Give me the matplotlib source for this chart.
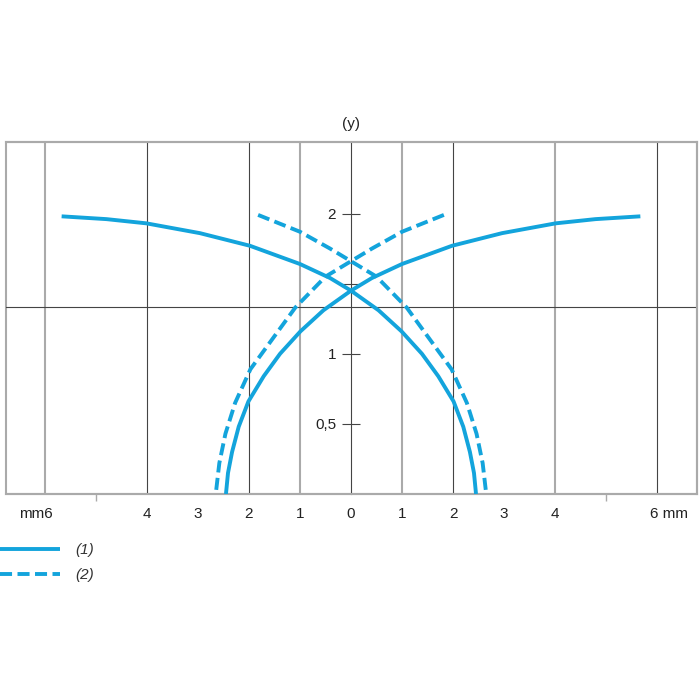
import matplotlib
matplotlib.use('Agg')
import matplotlib.pyplot as plt
from matplotlib.patches import Rectangle
import matplotlib.transforms as mtransforms
import numpy as np

plt.rcParams['font.family'] = ['Liberation Sans', 'DejaVu Sans']

# descending branch of each curve (x in mm, y); the rising branch is its mirror
x_curve1 = [-5.67, -4.79, -4.01, -2.96, -1.98, -1.0, -0.41, 0.0, 0.54, 0.99, 1.39, 1.71,
            2.01, 2.20, 2.33, 2.41, 2.45]
y_curve1 = [1.98, 1.96, 1.93, 1.86, 1.77, 1.64, 1.54, 1.45, 1.31, 1.16, 1.0, 0.84,
            0.66, 0.48, 0.30, 0.15, 0.0]
x_curve2 = [-1.82, -1.0, -0.41, 0.0, 0.5, 1.09, 1.45, 1.97, 2.27, 2.46, 2.58, 2.65]
y_curve2 = [1.99, 1.87, 1.75, 1.66, 1.55, 1.33, 1.15, 0.89, 0.65, 0.43, 0.22, 0.0]

x_labels = {-4: '4', -3: '3', -2: '2', -1: '1', 0: '0', 1: '1', 2: '2', 3: '3', 4: '4'}
x_small_ticks = [-5, -3, 3, 5]
y_ticks = [0.5, 1.0, 1.5, 2.0]
y_ticklabels = ['0,5', '1', '', '2']
vgrid_dark = [-4, -2, 2, 6]
vgrid_light = [-6, -1, 1, 4]
hgrid = [1.33]

blue = '#13a4dc'
dark = '#444444'
light = '#aaaaaa'
fs = 11

fig = plt.figure(figsize=(7, 7), dpi=100)
ax = fig.add_axes([6 / 700, 206 / 700, 691 / 700, 352 / 700])
ax.set_xlim(-6.76, 6.78)
ax.set_ylim(0, 2.51)

for g in vgrid_dark:
    ax.axvline(g, color=dark, lw=0.8, zorder=1)
for g in vgrid_light:
    ax.axvline(g, color=light, lw=1.5, zorder=1)
for g in hgrid:
    ax.axhline(g, color=dark, lw=0.8, zorder=1)

# curve (1)
xs1 = np.array(x_curve1)
ax.plot(xs1, y_curve1, color=blue, lw=2.8, solid_capstyle='butt', solid_joinstyle='round',
        label='(1)', zorder=3)
ax.plot(-xs1, y_curve1, color=blue, lw=2.8, solid_capstyle='butt', solid_joinstyle='round',
        zorder=3)
# curve (2)
xs2 = np.array(x_curve2)
ax.plot(xs2, y_curve2, color=blue, lw=2.8, dashes=(3.1, 1.4), label='(2)', zorder=3)
ax.plot(-xs2, y_curve2, color=blue, lw=2.8, dashes=(3.1, 1.4), zorder=3)

# frame
for s in ['top', 'right', 'bottom']:
    ax.spines[s].set_color(light)
    ax.spines[s].set_linewidth(1.5)
ax.spines['left'].set_position(('data', 0))
ax.spines['left'].set_color(dark)
ax.spines['left'].set_linewidth(0.8)
ax.add_patch(Rectangle((0, 0), 1, 1, transform=ax.transAxes, fill=False,
                       ec=light, lw=1.5, clip_on=False, zorder=0))

ax.set_yticks(y_ticks)
ax.set_yticklabels(y_ticklabels)
ax.tick_params(axis='y', direction='inout', length=13.5, width=0.8, color=dark,
               pad=4.0, labelsize=fs, labelcolor='#222222')

ax.set_xticks(list(x_labels.keys()))
ax.set_xticklabels(list(x_labels.values()))
ax.set_xticks(x_small_ticks, minor=True)
ax.tick_params(axis='x', which='major', length=0, pad=9.5, labelsize=fs, labelcolor='#222222')
ax.tick_params(axis='x', which='minor', direction='out', length=5, width=1, color=light)

trans = mtransforms.blended_transform_factory(ax.transData, ax.transAxes)
ax.annotate('mm6', xy=(-6, 0), xycoords=trans, xytext=(6, -9.5), textcoords='offset points',
            ha='right', va='top', fontsize=fs, color='#222222')
ax.annotate('6 mm', xy=(6, 0), xycoords=trans, xytext=(-5, -9.5), textcoords='offset points',
            ha='left', va='top', fontsize=fs, color='#222222')
ax.annotate('(y)', xy=(0, 1), xycoords=trans, xytext=(0, 13), textcoords='offset points',
            ha='center', va='center', fontsize=fs, color='#222222')

leg = fig.legend(loc='upper left', bbox_to_anchor=(0.0, 0.224), frameon=False,
                 handlelength=3.9, handletextpad=1.0, labelspacing=0.72,
                 borderpad=0, borderaxespad=0, fontsize=fs)
for t in leg.get_texts():
    t.set_fontstyle('italic')
    t.set_color('#333333')

fig.savefig('out.png', dpi=100)
